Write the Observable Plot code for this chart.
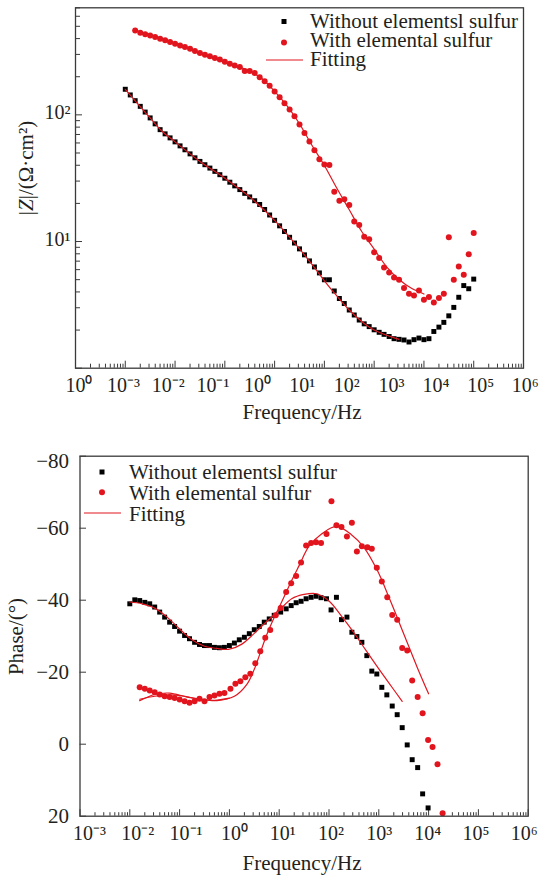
<!DOCTYPE html>
<html><head><meta charset="utf-8">
<script src="https://cdn.jsdelivr.net/npm/d3@7"></script>
<script src="https://cdn.jsdelivr.net/npm/@observablehq/plot@0.6"></script>
<style>
html,body{margin:0;padding:0;background:#fff;overflow:hidden;}
#chart svg{display:block;}
</style></head><body><div id="chart"></div>
<script>
// ---------- DATA ----------
const legendLabels = ["Without elementsl sulfur", "With elemental sulfur", "Fitting"];
const xTickLabelsTop = ["10⁰","10⁻³","10⁻²","10⁻¹","10⁰","10¹","10²","10³","10⁴","10⁵","10⁶"];
const yTickLabelsTop = ["10¹","10²"];
const yTickValuesTop = [10, 100];
const xTickLabelsBottom = ["10⁻³","10⁻²","10⁻¹","10⁰","10¹","10²","10³","10⁴","10⁵","10⁶"];
const yTickValuesBottom = [-80, -60, -40, -20, 0, 20];
const yTickLabelsBottom = ["−80","−60","−40","−20","0","20"];

// |Z| vs frequency (top)
const freqTop = [0.001,0.00126,0.00158,0.002,0.00251,0.00316,0.00398,0.00501,0.00631,0.00794,
 0.01,0.0126,0.0158,0.02,0.0251,0.0316,0.0398,0.0501,0.0631,0.0794,
 0.1,0.126,0.158,0.2,0.251,0.316,0.398,0.501,0.631,0.794,
 1,1.26,1.58,2,2.51,3.16,3.98,5.01,6.31,7.94,
 10,12.6,15.8,20,25.1,31.6,39.8,50.1,63.1,79.4,
 100,126,158,200,251,316,398,501,631,794,
 1000,1260,1580,2000,2510,3160,3980,5010,6310,7940,
 10000];
const zWithout = [159.2,143.6,129.4,116.7,105.2,94.6,84.9,76.4,70.8,65.8,
 61.2,56.9,53.0,49.2,45.8,42.9,40.4,38.0,35.8,33.7,
 31.6,29.4,27.5,25.7,24.0,22.5,21.0,19.6,17.9,16.2,
 14.7,13.3,12.0,10.8,9.73,8.75,7.85,7.03,6.30,5.65,
 4.99,4.99,4.07,3.55,3.24,2.88,2.63,2.40,2.24,2.13,
 2.01,1.92,1.85,1.78,1.71,1.69,1.67,1.61,1.68,1.73,
 1.68,1.71,1.95,2.11,2.30,2.59,3.02,3.63,4.49,4.24,
 5.05];
const zWith = [null,null,463.4,444.6,433.5,423.6,411.1,399.0,387.3,375.8,
 364.8,353.2,342.8,332.7,319.9,307.6,298.5,289.7,281.2,272.9,
 263.0,253.5,245.5,238.2,221.8,221.8,213.8,197.7,184.1,169.4,
 153.1,137.7,123.6,110.4,97.3,84.1,71.9,61.7,52.5,44.7,
 40.6,40.1,24.7,21.0,21.6,19.4,14.4,13.5,10.9,10.4,
 8.24,7.40,6.24,5.69,5.20,4.99,4.30,3.87,3.75,4.10,
 3.47,3.64,3.30,3.58,3.87,10.8,4.99,6.34,5.46,7.94,
 11.7];
const fitTopWithoutF = [0.001,0.00316,0.00562,0.01,0.0316,0.1,0.316,1,3.16,5.62,10,17.8,31.6,56.2,100,178,316];
const fitTopWithoutZ = [159.2,94.6,73.6,61.2,42.9,31.6,22.5,14.7,8.75,6.61,4.90,3.72,2.88,2.34,2.00,1.82,1.69];
const fitTopWithF = [0.00158,0.00316,0.01,0.0316,0.1,0.316,0.562,1,1.78,3.16,5.62,10,17.8,31.6,56.2,100,178,316,562,1000];
const fitTopWithZ = [463,424,365,308,263,221,192.8,153,117.5,85.1,57.5,39.8,26.3,17.8,12.0,8.71,6.31,5.01,4.27,3.85];

// Phase vs frequency (bottom)
const freqPhaseWithout = [0.01,0.0126,0.0158,0.02,0.0251,0.0316,0.0398,0.0501,0.0631,0.0794,
 0.1,0.126,0.158,0.2,0.251,0.316,0.398,0.501,0.631,0.794,
 1,1.26,1.58,2,2.51,3.16,3.98,5.01,6.31,7.94,
 10.7,13.8,17.4,21.9,27.5,34.7,43.7,55.0,69.2,89.1,
 110,141,178,229,288,363,457,575,724,912,
 1150,1450,1860,2340,2950,3720,4680,6030,7590,9770];
const phaseWithout = [-39.0,-40.1,-39.9,-39.4,-39.0,-38.1,-36.7,-35.3,-33.9,-32.7,
 -31.4,-30.2,-29.3,-28.3,-27.7,-27.4,-27.4,-26.9,-26.8,-26.9,
 -27.4,-28.1,-29.0,-29.7,-30.7,-31.8,-32.7,-33.9,-34.8,-35.8,
 -36.7,-37.6,-38.5,-39.3,-39.7,-40.4,-40.8,-41.1,-40.7,-40.4,
 -37.3,-40.8,-34.6,-35.3,-31.1,-29.9,-28.3,-24.6,-20.3,-19.5,
 -15.8,-13.7,-10.6,-8.2,-4.6,0.2,4.3,6.5,13.8,17.7];
const freqPhaseWith = [0.0158,0.02,0.0251,0.0316,0.0398,0.0501,0.0631,0.0794,0.1,0.126,0.158,0.2,0.251,0.316,0.398,0.501,0.631,0.794,
 1.05,1.32,1.66,2.09,2.63,3.31,4.17,5.25,6.61,8.51,
 10.7,13.8,17.4,21.9,27.5,34.7,43.7,55.0,69.2,89.1,
 112,141,178,229,288,363,457,589,724,912,
 1150,1480,1860,2340,2950,3720,4680,6030,7590,9770,
 12000,15100,19100];
const phaseWith = [-15.8,-15.4,-14.9,-14.4,-13.8,-13.3,-13.1,-12.8,-12.4,-11.9,-11.5,-11.9,-12.6,-11.9,-13.1,-13.5,-14.0,-14.2,
 -15.4,-16.8,-17.5,-18.6,-19.6,-22.5,-25.8,-29.6,-31.7,-35.8,
 -37.8,-42.3,-44.7,-46.7,-50.5,-55.2,-55.9,-56.1,-55.9,-58.4,
 -67.5,-60.8,-60.3,-57.7,-61.5,-53.5,-55.0,-54.7,-54.3,-49.0,
 -45.2,-40.8,-35.9,-34.6,-26.7,-26.0,-17.7,-13.1,-8.6,-1.2,
 0.8,5.6,19.2];
const fitPhaseWithoutF = [0.01,0.0178,0.0316,0.0562,0.1,0.178,0.316,0.562,1,1.78,3.16,5.62,10,17.8,31.6,56.2,100,178,316,562,1000,1780,2950];
const fitPhaseWithoutP = [-39.5,-39.0,-37.8,-35.3,-32.0,-29.0,-27.2,-26.6,-26.4,-27.8,-30.8,-34.1,-37.2,-40.4,-41.6,-41.8,-39.8,-35.6,-31.0,-25.9,-20.9,-16.1,-11.9];
const fitPhaseWithF = [0.0158,0.0316,0.0631,0.141,0.316,0.562,1.26,2.24,3.16,3.98,5.62,7.94,11.2,17.8,25.1,39.8,70.8,141,282,501,933,1700,3160,5890,10000];
const fitPhaseWithP = [-12.1,-13.8,-14.2,-13.1,-12.4,-12.1,-13.3,-16.6,-20.8,-24.6,-30.4,-35.2,-39.5,-45.5,-49.6,-55.0,-58.4,-60.5,-58.2,-54.7,-48.3,-39.9,-30.7,-21.4,-14.0];
const fitPhaseWith2F = [0.0158,0.0316,0.0631,0.126,0.251,0.501,1.0];
const fitPhaseWith2P = [-12.5,-13.3,-13.7,-13.3,-12.5,-12.2,-12.8];

// ---------- STYLE ----------
const FONT = "'Liberation Serif','Times New Roman',Times,serif";
const RED = "#e2141d";
const FITRED = "#e0161f";
const INK = "#231f20";
const FRAME = "#3a3a3a";

function logTicks(e0, e1, maxV) {
  const major = [], minor = [];
  for (let e = e0; e <= e1; e++) {
    major.push(10 ** e);
    if (e < e1) for (let m = 2; m <= 9; m++) { const v = m * 10 ** e; if (maxV === undefined || v <= maxV) minor.push(v); }
  }
  return {major, minor};
}

function addText(g, x, y, str) {
  return g.append("text").attr("x", x).attr("y", y).attr("text-anchor", "start").text(str);
}

// ---------- TOP CHART ----------
function topChart() {
  const W = 544, H = 430, mt = 7.3, mb = 62.3, ml = 75, mr = 21;
  const iw = W - ml - mr, ih = H - mt - mb;
  const tx = logTicks(-4, 5);
  const ty = logTicks(0, 3, 700);
  const labelPos = xTickLabelsTop.map((_, i) => 10 ** (-3.93 + 0.8966 * i));
  const xLabels = labelPos.map((p, i) => ({p, t: xTickLabelsTop[i]}));
  const yLabels = yTickValuesTop.map((v, i) => ({v, t: yTickLabelsTop[i]}));
  const without = freqTop.map((f, i) => ({f, z: zWithout[i]}));
  const withS = freqTop.map((f, i) => ({f, z: zWith[i]})).filter(d => d.z != null);
  const fitA = fitTopWithoutF.map((f, i) => ({f, z: fitTopWithoutZ[i]}));
  const fitB = fitTopWithF.map((f, i) => ({f, z: fitTopWithZ[i]}));
  const svg = Plot.plot({
    width: W, height: H, marginTop: mt, marginBottom: mb, marginLeft: ml, marginRight: mr,
    x: {type: "log", domain: [1e-4, 1e5], axis: null},
    y: {type: "log", domain: [1, 700], axis: null},
    style: {fontFamily: FONT, fontSize: "20px", color: INK, background: "white"},
    marks: [
      Plot.tickX(tx.major, {x: d => d, insetTop: ih - 7, stroke: FRAME, strokeWidth: 1}),
      Plot.tickX(tx.minor, {x: d => d, insetTop: ih - 4, stroke: FRAME, strokeWidth: 1}),
      Plot.tickY(ty.major, {y: d => d, insetRight: iw - 7, stroke: FRAME, strokeWidth: 1}),
      Plot.tickY(ty.minor, {y: d => d, insetRight: iw - 5, stroke: FRAME, strokeWidth: 1}),
      Plot.text(xLabels, {x: "p", text: "t", frameAnchor: "bottom", lineAnchor: "top", dy: 10, fontSize: 20, fill: INK, textAnchor: "middle"}),
      Plot.text(yLabels, {y: "v", text: "t", frameAnchor: "left", textAnchor: "end", dx: -5, dy: -2, fontSize: 20, fill: INK}),
      Plot.dot(without, {x: "f", y: "z", symbol: "square", r: 2.8, fill: "#000", stroke: "none"}),
      Plot.line(fitA, {x: "f", y: "z", stroke: FITRED, strokeWidth: 1.2, curve: "catmull-rom"}),
      Plot.dot(withS, {x: "f", y: "z", symbol: "circle", r: 3, fill: RED, stroke: "none"}),
      Plot.line(fitB, {x: "f", y: "z", stroke: FITRED, strokeWidth: 1.2, curve: "catmull-rom"}),
      Plot.frame({stroke: FRAME, strokeWidth: 1.3})
    ]
  });
  const s = d3.select(svg);
  const g = s.append("g").attr("font-family", FONT).attr("font-size", 21).attr("fill", INK);
  // legend
  g.append("rect").attr("x", 284 - 2.5).attr("y", 21.5 - 2.5).attr("width", 5).attr("height", 5).attr("fill", "#000");
  addText(g, 310, 27.5, legendLabels[0]);
  g.append("circle").attr("cx", 284).attr("cy", 42.5).attr("r", 3).attr("fill", RED);
  addText(g, 310, 47, legendLabels[1]);
  g.append("line").attr("x1", 266).attr("x2", 303).attr("y1", 60).attr("y2", 60).attr("stroke", FITRED).attr("stroke-width", 1.2);
  addText(g, 310, 66, legendLabels[2]);
  // titles
  g.append("text").attr("x", 302).attr("y", 419).attr("text-anchor", "middle").text("Frequency/Hz");
  const yt = g.append("text").attr("transform", "translate(33,168) rotate(-90)").attr("text-anchor", "middle");
  yt.append("tspan").text("|");
  yt.append("tspan").attr("font-style", "italic").text("Z");
  yt.append("tspan").text("|/(Ω·cm²)");
  return svg;
}

// ---------- BOTTOM CHART ----------
function bottomChart() {
  const W = 544, H = 447, mt = 25.7, mb = 61.3, ml = 79.5, mr = 16.3;
  const iw = W - ml - mr, ih = H - mt - mb;
  const tx = logTicks(-3, 6);
  const labelPos = xTickLabelsBottom.map((_, i) => 10 ** (-2.809 + 0.970 * i));
  const xLabels = labelPos.map((p, i) => ({p, t: xTickLabelsBottom[i]}));
  const yLabels = yTickValuesBottom.map((v, i) => ({v, t: yTickLabelsBottom[i], off: i === 0 ? 5 : 0}));
  const without = freqPhaseWithout.map((f, i) => ({f, p: phaseWithout[i]}));
  const withS = freqPhaseWith.map((f, i) => ({f, p: phaseWith[i]}));
  const fitA = fitPhaseWithoutF.map((f, i) => ({f, p: fitPhaseWithoutP[i]}));
  const fitB = fitPhaseWithF.map((f, i) => ({f, p: fitPhaseWithP[i]}));
  const fitC = fitPhaseWith2F.map((f, i) => ({f, p: fitPhaseWith2P[i]}));
  const svg = Plot.plot({
    width: W, height: H, marginTop: mt, marginBottom: mb, marginLeft: ml, marginRight: mr,
    x: {type: "log", domain: [1e-3, 1e6], axis: null},
    y: {domain: [20, -80], axis: null},
    style: {fontFamily: FONT, fontSize: "20px", color: INK, background: "white"},
    marks: [
      Plot.tickX(tx.major, {x: d => d, insetTop: ih - 6.5, stroke: FRAME, strokeWidth: 1}),
      Plot.tickX(tx.minor, {x: d => d, insetTop: ih - 3.5, stroke: FRAME, strokeWidth: 1}),
      Plot.tickY(yTickValuesBottom, {y: d => d, insetRight: iw - 6.5, stroke: FRAME, strokeWidth: 1}),
      Plot.text(xLabels, {x: "p", text: "t", frameAnchor: "bottom", lineAnchor: "top", dy: 10, fontSize: 20, fill: INK, textAnchor: "middle"}),
      Plot.text(yLabels.filter(d => d.off === 0), {y: "v", text: "t", frameAnchor: "left", textAnchor: "end", dx: -11, fontSize: 21, fill: INK}),
      Plot.text(yLabels.filter(d => d.off !== 0), {y: "v", text: "t", frameAnchor: "left", textAnchor: "end", dx: -11, dy: 5, fontSize: 21, fill: INK}),
      Plot.dot(without, {x: "f", y: "p", symbol: "square", r: 2.8, fill: "#000", stroke: "none"}),
      Plot.line(fitA, {x: "f", y: "p", stroke: FITRED, strokeWidth: 1.2, curve: "catmull-rom"}),
      Plot.dot(withS, {x: "f", y: "p", symbol: "circle", r: 3, fill: RED, stroke: "none"}),
      Plot.line(fitB, {x: "f", y: "p", stroke: FITRED, strokeWidth: 1.2, curve: "catmull-rom"}),
      Plot.line(fitC, {x: "f", y: "p", stroke: FITRED, strokeWidth: 1.1, curve: "catmull-rom"}),
      Plot.frame({stroke: FRAME, strokeWidth: 1.3})
    ]
  });
  const s = d3.select(svg);
  const g = s.append("g").attr("font-family", FONT).attr("font-size", 21).attr("fill", INK);
  g.append("rect").attr("x", 102 - 2.5).attr("y", 42 - 2.5).attr("width", 5).attr("height", 5).attr("fill", "#000");
  addText(g, 129, 49, legendLabels[0]);
  g.append("circle").attr("cx", 102).attr("cy", 62.3).attr("r", 3).attr("fill", RED);
  addText(g, 129, 70, legendLabels[1]);
  g.append("line").attr("x1", 84).attr("x2", 121).attr("y1", 83).attr("y2", 83).attr("stroke", FITRED).attr("stroke-width", 1.2);
  addText(g, 129, 91, legendLabels[2]);
  g.append("text").attr("x", 302).attr("y", 440).attr("text-anchor", "middle").text("Frequency/Hz");
  g.append("text").attr("transform", "translate(23,206.5) rotate(-90)").attr("text-anchor", "middle").text("Phase/(°)");
  return svg;
}

const root = document.getElementById("chart");
root.appendChild(topChart());
root.appendChild(bottomChart());
</script>
</body></html>
